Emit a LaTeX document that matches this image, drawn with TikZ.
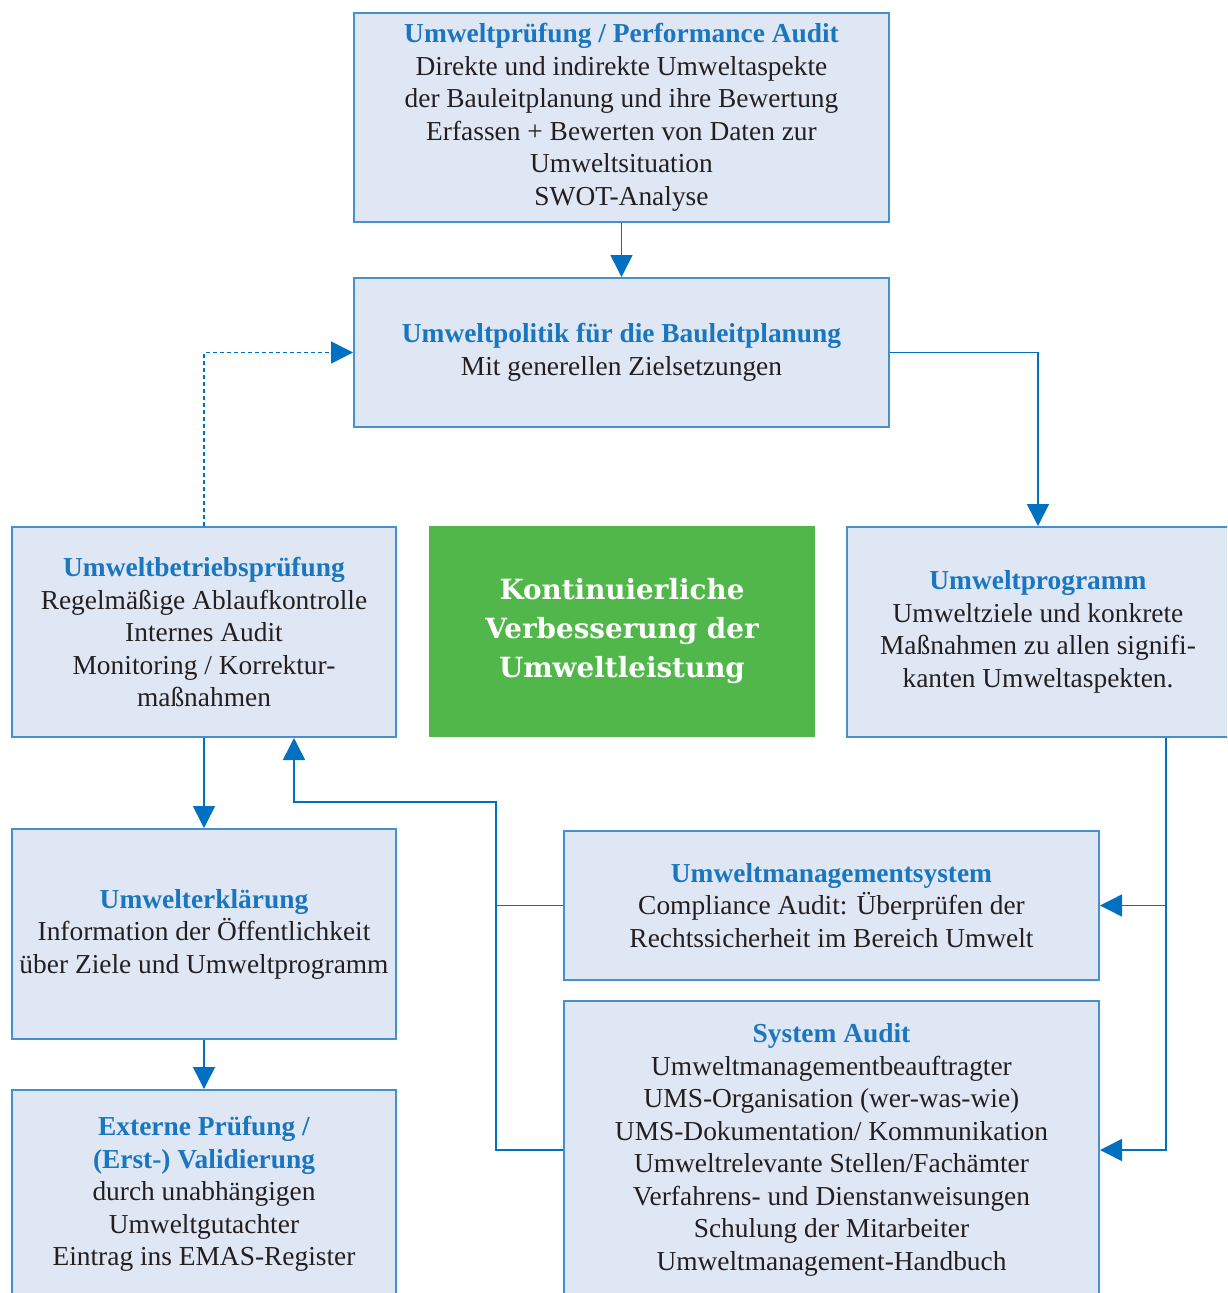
\documentclass[tikz,border=0pt]{standalone}
\usepackage{fontspec}
\setmainfont{Liberation Serif}
\newfontfamily\slabbold{DejaVu Serif}
\usetikzlibrary{arrows.meta,calc}
\definecolor{boxfill}{RGB}{224,231,244}
\definecolor{boxline}{RGB}{70,145,205}
\definecolor{titleblue}{RGB}{26,118,190}
\definecolor{arrowblue}{RGB}{0,112,192}
\definecolor{bodytext}{RGB}{35,31,32}
\definecolor{greenbox}{RGB}{82,183,74}
\tikzset{
  infobox/.style={draw=boxline, fill=boxfill, line width=2pt, inner sep=0pt,
    align=center, text=bodytext, font=\fontsize{27.4}{32.5}\selectfont},
  conn/.style={draw=arrowblue, line width=1.5pt,
    -{Triangle[length=22pt,width=22pt]}},
  plain/.style={draw=arrowblue, line width=1.5pt},
  dotconn/.style={conn, dash pattern=on 4pt off 3pt},
}
\newcommand{\ttl}[1]{\textcolor{titleblue}{\bfseries #1}}
\begin{document}
\begin{tikzpicture}[x=1pt,y=-1pt]
\useasboundingbox (0,0) rectangle (1227,1293);
\begin{scope}
\clip (0,0) rectangle (1227,1293);

% boxes
\node[infobox, minimum width=535pt, minimum height=209pt] (top) at (621.5,117.5)
  {\ttl{Umweltprüfung / Performance Audit}\\Direkte und indirekte Umweltaspekte\\der Bauleitplanung und ihre Bewertung\\Erfassen + Bewerten von Daten zur\\Umweltsituation\\SWOT-Analyse};
\node[infobox, minimum width=535pt, minimum height=149pt] (pol) at (621.5,352.5)
  {\ttl{Umweltpolitik für die Bauleitplanung}\\Mit generellen Zielsetzungen};
\node[infobox, minimum width=384pt, minimum height=210pt] (bp) at (204,632)
  {\ttl{Umweltbetriebsprüfung}\\Regelmäßige Ablaufkontrolle\\Internes Audit\\Monitoring / Korrektur-\\maßnahmen};
\node[fill=greenbox, inner sep=0pt, minimum width=386pt, minimum height=211pt,
  align=center, text=white, font=\slabbold\bfseries\fontsize{27.8}{39}\selectfont] (kvu) at (622,631.5)
  {Kontinuierliche\\Verbesserung der\\Umweltleistung};
\node[infobox, minimum width=382pt, minimum height=210pt] (prog) at (1038,632)
  {\ttl{Umweltprogramm}\\Umweltziele und konkrete\\Maßnahmen zu allen signifi-\\kanten Umweltaspekten.};
\node[infobox, minimum width=384pt, minimum height=210pt] (erk) at (204,934)
  {\ttl{Umwelterklärung}\\Information der Öffentlichkeit\\über Ziele und Umweltprogramm};
\node[infobox, minimum width=384pt, minimum height=208pt] (ext) at (204,1194)
  {\ttl{Externe Prüfung /}\\\ttl{(Erst-) Validierung}\\durch unabhängigen\\Umweltgutachter\\Eintrag ins EMAS-Register};
\node[infobox, minimum width=535pt, minimum height=149pt] (ums) at (831.5,905.5)
  {\ttl{Umweltmanagementsystem}\\Compliance Audit: Überprüfen der\\Rechtssicherheit im Bereich Umwelt};
\node[infobox, minimum width=535pt, minimum height=298pt] (sa) at (831.5,1150)
  {\ttl{System Audit}\\Umweltmanagementbeauftragter\\UMS-Organisation (wer-was-wie)\\UMS-Dokumentation/ Kommunikation\\Umweltrelevante Stellen/Fachämter\\Verfahrens- und Dienstanweisungen\\Schulung der Mitarbeiter\\Umweltmanagement-Handbuch};

% junction points of the routed connectors
\coordinate (rbus) at (1166,1150);
\coordinate (lbus) at (496,802);

% connectors
\draw[conn] (top.south) -- (pol.north);
\draw[conn] (pol.east) -| (prog.north);
\draw[dotconn] (bp.north) |- (pol.west);
\draw[conn] (bp.south) -- (erk.north);
\draw[conn] (erk.south) -- (ext.north);
\draw[conn] (prog.south -| rbus) |- (sa.east);
\draw[conn] (rbus |- ums.east) -- (ums.east);
\draw[conn] (sa.west) -| (lbus) -| ($(bp.south)+(90,0)$);
\draw[plain] (ums.west) -- (ums.west -| lbus);
\end{scope}
\end{tikzpicture}
\end{document}
